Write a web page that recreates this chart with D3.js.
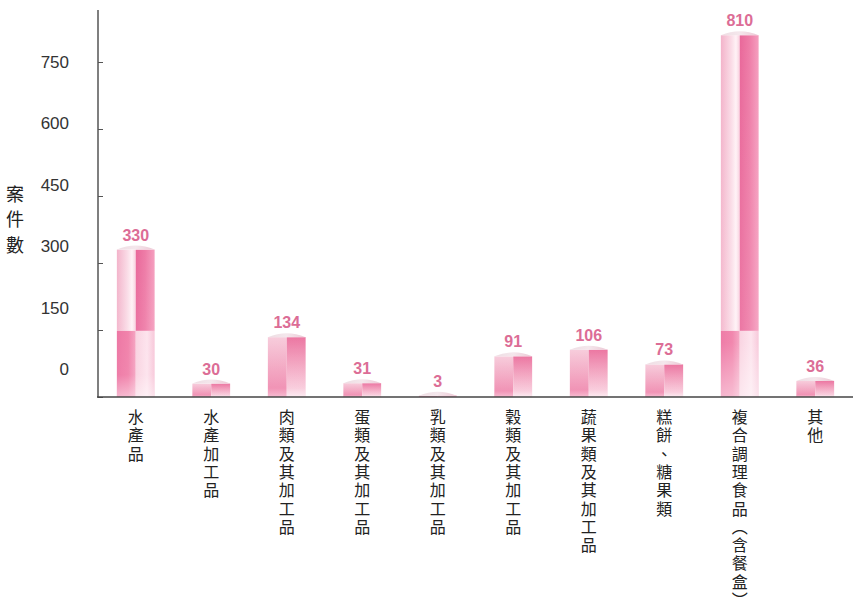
<!DOCTYPE html>
<html>
<head>
<meta charset="utf-8">
<script src="https://cdn.jsdelivr.net/npm/d3@7/dist/d3.min.js"></script>
<style>
  html, body { margin: 0; padding: 0; background: #fff; }
  svg { display: block; }
</style>
</head>
<body>
<svg id="chart" width="855" height="604"></svg>
<script>
// Food categories and case counts
const categories = [
  "水產品", "水產加工品", "肉類及其加工品", "蛋類及其加工品", "乳類及其加工品",
  "穀類及其加工品", "蔬果類及其加工品", "糕餅、糖果類", "複合調理食品（含餐盒）", "其他"
];
const counts = [330, 30, 134, 31, 3, 91, 106, 73, 810, 36];
const yTicks = [0, 150, 300, 450, 600, 750];
const yTitle = "案件數";

const svg = d3.select("#chart");
const cjk = "'Noto Sans CJK TC', 'Noto Sans', sans-serif";
const num = "'Liberation Sans', Arial, sans-serif";

const x = d3.scaleBand().domain(categories).range([98, 853]).paddingInner(0.5).paddingOuter(0.25);
const y = d3.scaleLinear().domain([0, 750]).range([397, 62]);
// tick captions sit on a slightly compressed spacing
const yLabel = d3.scaleLinear().domain([0, 750]).range([369, 62]);

// gradients for the glassy bar halves
const defs = svg.append("defs");
function grad(id, stops, vertical) {
  const g = defs.append("linearGradient").attr("id", id)
    .attr("x1", 0).attr("x2", vertical ? 0 : 1).attr("y1", 0).attr("y2", vertical ? 1 : 0);
  stops.forEach(([o, c]) => g.append("stop").attr("offset", o).attr("stop-color", c));
}
grad("upL", [[0, "#f3b3ca"], [0.55, "#fadbe6"], [0.8, "#fff2f6"], [1, "#f8d0de"]]);
grad("upR", [[0, "#e9689a"], [0.5, "#ee7ca7"], [1, "#f59fbf"]]);
grad("loL", [[0, "#ec6e9e"], [0.6, "#f07aa5"], [1, "#f4a0bf"]]);
grad("loR", [[0, "#f9d0df"], [0.6, "#fde2ec"], [1, "#f7c4d7"]]);
// short bars blend both tones top to bottom
grad("sL", [[0, "#f7cddc"], [0.45, "#f3aac4"], [1, "#ee7ba5"]], true);
grad("sR", [[0, "#ec77a2"], [0.5, "#f3a7c2"], [1, "#fad6e3"]], true);
const cap = defs.append("linearGradient").attr("id", "cap")
  .attr("x1", 0).attr("x2", 1).attr("y1", 0).attr("y2", 0);
cap.append("stop").attr("offset", 0).attr("stop-color", "#eedde3");
cap.append("stop").attr("offset", 0.5).attr("stop-color", "#f4e7ec");
cap.append("stop").attr("offset", 1).attr("stop-color", "#ecc8d5");
const fade = defs.append("linearGradient").attr("id", "fade")
  .attr("x1", 0).attr("x2", 0).attr("y1", 0).attr("y2", 1);
fade.append("stop").attr("offset", 0).attr("stop-color", "#fff").attr("stop-opacity", 0);
fade.append("stop").attr("offset", 0.85).attr("stop-color", "#fff").attr("stop-opacity", 0.1);
fade.append("stop").attr("offset", 1).attr("stop-color", "#fff").attr("stop-opacity", 0.5);

const seamY = y(148);
const bw = x.bandwidth();
const half = bw / 2;

const bars = svg.append("g").selectAll("g").data(categories).join("g")
  .attr("transform", d => `translate(${x(d)},0)`);

bars.each(function (d, i) {
  const g = d3.select(this);
  const top = y(counts[i]);
  const bottom = y(0);
  if (top < seamY) {
    g.append("rect").attr("x", 0).attr("y", top).attr("width", half).attr("height", seamY - top).attr("fill", "url(#upL)");
    g.append("rect").attr("x", half).attr("y", top).attr("width", bw - half).attr("height", seamY - top).attr("fill", "url(#upR)");
    g.append("rect").attr("x", 0).attr("y", seamY).attr("width", half).attr("height", bottom - seamY).attr("fill", "url(#loL)");
    g.append("rect").attr("x", half).attr("y", seamY).attr("width", bw - half).attr("height", bottom - seamY).attr("fill", "url(#loR)");
  } else {
    g.append("rect").attr("x", 0).attr("y", top).attr("width", half).attr("height", bottom - top).attr("fill", "url(#sL)");
    g.append("rect").attr("x", half).attr("y", top).attr("width", bw - half).attr("height", bottom - top).attr("fill", "url(#sR)");
  }
  g.append("rect").attr("x", 0).attr("y", top).attr("width", bw).attr("height", bottom - top).attr("fill", "url(#fade)");
  // domed cap
  g.append("path")
    .attr("d", `M0,${top} Q${bw / 2},${top - 8} ${bw},${top} Z`)
    .attr("fill", "url(#cap)");
  g.append("text")
    .attr("x", bw / 2).attr("y", top - 9)
    .attr("text-anchor", "middle")
    .attr("font-family", num).attr("font-size", 16).attr("font-weight", "bold")
    .attr("fill", "#dc6d96")
    .text(counts[i]);
});

// axes
const yAxis = d3.axisRight(y).tickValues(yTicks).tickSize(5).tickFormat("");
const yg = svg.append("g").attr("transform", "translate(98,0)").call(yAxis);
yg.select(".domain").remove();
yg.selectAll(".tick line").attr("stroke", "#555");
svg.append("line").attr("x1", 98).attr("x2", 98).attr("y1", 10).attr("y2", 397.5)
  .attr("stroke", "#555").attr("stroke-width", 1.5);
svg.append("line").attr("x1", 97).attr("x2", 853).attr("y1", 397).attr("y2", 397)
  .attr("stroke", "#444").attr("stroke-width", 1.5);

svg.append("g").selectAll("text").data(yTicks).join("text")
  .attr("x", 69).attr("y", d => yLabel(d) + 6)
  .attr("text-anchor", "end")
  .attr("font-family", num).attr("font-size", 17)
  .attr("fill", "#333")
  .text(d => d);

// vertical y title
svg.append("text")
  .attr("x", 15).attr("y", 185)
  .attr("writing-mode", "vertical-rl")
  .style("letter-spacing", "7.5px")
  .attr("font-family", cjk).attr("font-size", 18)
  .attr("fill", "#222")
  .text(yTitle);

// vertical category labels
svg.append("g").selectAll("text").data(categories).join("text")
  .attr("x", d => x(d) + bw / 2).attr("y", 409)
  .attr("writing-mode", "vertical-rl")
  .style("letter-spacing", "2.3px")
  .attr("font-family", cjk).attr("font-size", 16)
  .attr("fill", "#222")
  .text(d => d);
</script>
</body>
</html>
